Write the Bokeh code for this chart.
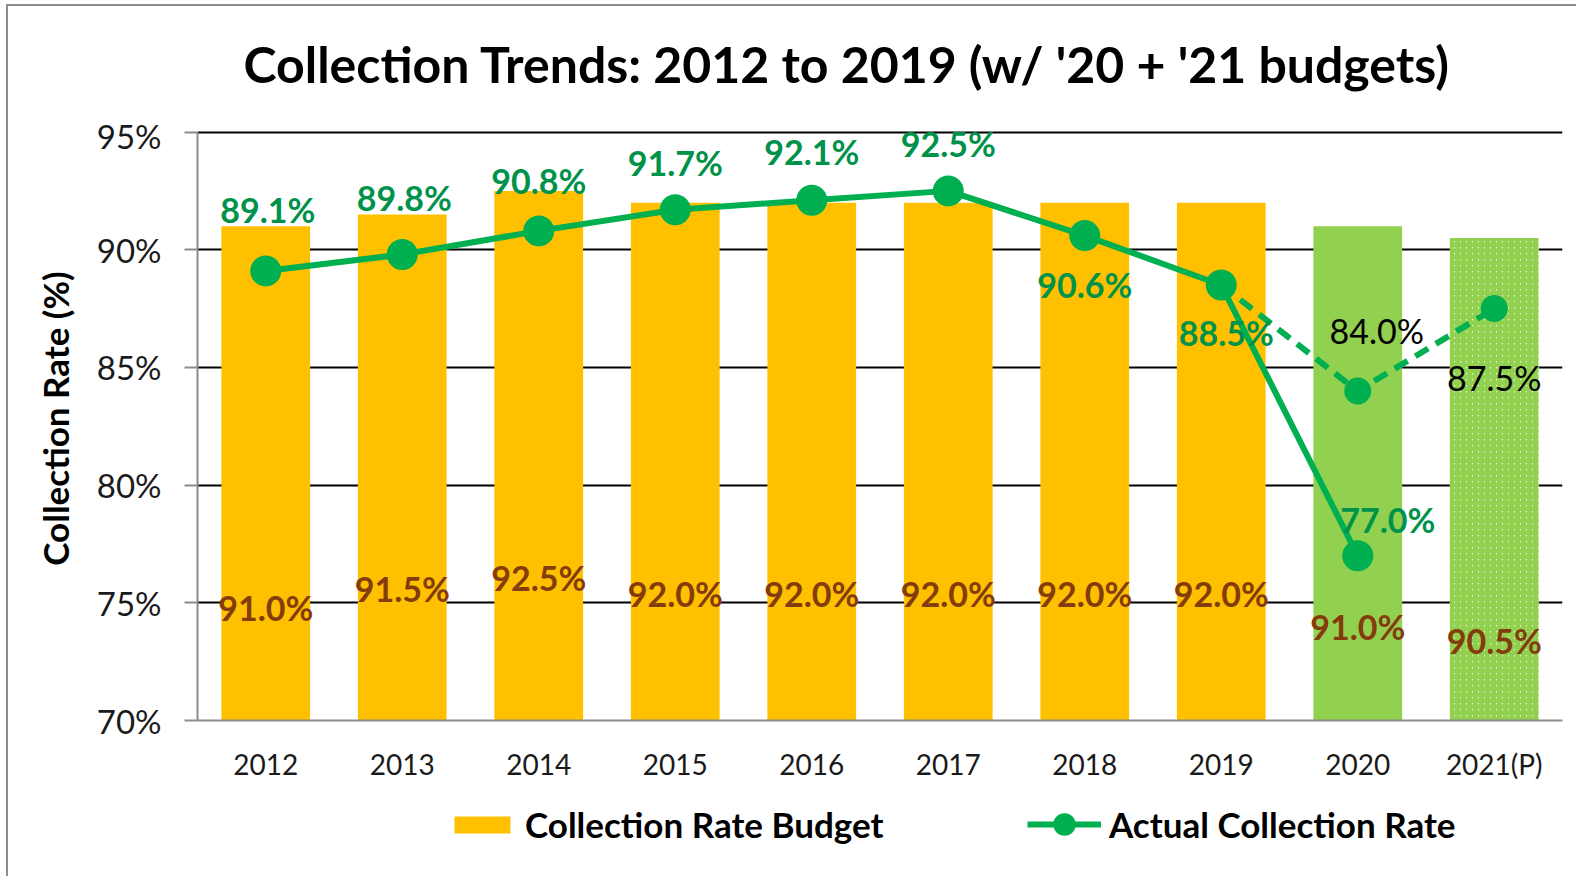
from bokeh.plotting import figure
from bokeh.layouts import column
from bokeh.models import ColumnDataSource, FactorRange, Range1d, Legend, LegendItem, FixedTicker, Label
from bokeh.core.properties import value
from bokeh.embed import file_html
from bokeh.resources import INLINE

# ---- data ----
title_text = "Collection Trends: 2012 to 2019 (w/ '20 + '21 budgets)"
years = ["2012", "2013", "2014", "2015", "2016", "2017", "2018", "2019", "2020", "2021(P)"]
budget = [91.0, 91.5, 92.5, 92.0, 92.0, 92.0, 92.0, 92.0, 91.0, 90.5]
actual_years = ["2012", "2013", "2014", "2015", "2016", "2017", "2018", "2019", "2020"]
actual = [89.1, 89.8, 90.8, 91.7, 92.1, 92.5, 90.6, 88.5, 77.0]
proj_years = ["2019", "2020", "2021(P)"]
projected = [88.5, 84.0, 87.5]
y_ticks = [70, 75, 80, 85, 90, 95]
y_tick_labels = ["70%", "75%", "80%", "85%", "90%", "95%"]
legend_labels = ["Collection Rate Budget", "Actual Collection Rate"]

# ---- label placement (pixels) ----
budget_label_shift = 16.5  # labels sit low inside bars
budget_label_dy = [-7, -14, -2, 2, 2, 2, 2, 2, 12, 14]
actual_label_dx = [2, 2, 0, 0, 0, 0, 0, 5, 30]
actual_label_dy = [-61, -57, -50, -47, -49, -47, 49, 47, -36]
proj_label_dx = [19, 0]
proj_label_dy = [-60, 69]
y_headroom = 0.66  # a little room above 95% so top labels are not clipped

FONT = "Lato"
ORANGE = "#FFC000"
LIGHTGREEN = "#92D050"
LINEGREEN = "#00B050"
LABELGREEN = "#00924A"
BROWN = "#843C0C"
GRAY = "#8C8C8C"


def strip(h):
    f = figure(width=1568, height=h, output_backend="svg", toolbar_location=None,
               x_range=Range1d(0, 1), y_range=Range1d(0, 1),
               x_axis_type=None, y_axis_type=None,
               min_border_left=0, min_border_right=0, min_border_top=0, min_border_bottom=0)
    f.outline_line_color = None
    f.grid.grid_line_color = None
    f.background_fill_color = "white"
    f.border_fill_color = "white"
    return f


# ---- title strip (frame aligns with the chart frame horizontally) ----
pt = strip(109)
pt.add_layout(Label(x=0.4758, y=0.4725, text=title_text, text_align="center",
                    text_baseline="middle", text_font=FONT, text_font_size="50px",
                    text_font_style="bold", text_color="black"))

# ---- main chart ----
p = figure(
    x_range=FactorRange(*years, range_padding=0),
    y_range=Range1d(70, y_ticks[-1] + y_headroom),
    width=1568, height=675,
    output_backend="svg", toolbar_location=None,
    min_border_left=189, min_border_right=14, min_border_top=1, min_border_bottom=70,
)
p.outline_line_color = None
p.background_fill_color = "white"
p.border_fill_color = "white"

# bars
n8 = 8
src_or = ColumnDataSource(dict(x=years[:n8], top=budget[:n8]))
src_gr = ColumnDataSource(dict(x=years[8:9], top=budget[8:9]))
src_ht = ColumnDataSource(dict(x=years[9:], top=budget[9:]))
p.vbar(x="x", top="top", bottom=70, width=0.65, source=src_or,
       fill_color=ORANGE, line_color=None)
p.vbar(x="x", top="top", bottom=70, width=0.65, source=src_gr,
       fill_color=LIGHTGREEN, line_color=None)
p.vbar(x="x", top="top", bottom=70, width=0.65, source=src_ht,
       fill_color="white", line_color=None,
       hatch_pattern="right_diagonal_line", hatch_color=LIGHTGREEN,
       hatch_scale=6, hatch_weight=3)

# lines
src_act = ColumnDataSource(dict(x=actual_years, y=actual))
src_proj = ColumnDataSource(dict(x=proj_years, y=projected))
src_proj_pts = ColumnDataSource(dict(x=proj_years[1:], y=projected[1:]))
p.line(x="x", y="y", source=src_proj, line_color=LINEGREEN, line_width=6,
       line_dash="15 9")
p.scatter(x="x", y="y", source=src_proj_pts, size=27, fill_color=LINEGREEN,
          line_color=None)
p.line(x="x", y="y", source=src_act, line_color=LINEGREEN, line_width=6)
p.scatter(x="x", y="y", source=src_act, size=31, fill_color=LINEGREEN,
          line_color=None)

# labels
src_blab = ColumnDataSource(dict(
    x=years, y=[b - budget_label_shift for b in budget],
    t=["%.1f%%" % b for b in budget], dy=budget_label_dy))
p.text(x="x", y="y", text="t", y_offset="dy", source=src_blab,
       text_font=value(FONT), text_font_size="34px", text_font_style="bold",
       text_color=BROWN, text_align="center", text_baseline="middle")

src_alab = ColumnDataSource(dict(
    x=actual_years, y=actual, t=["%.1f%%" % a for a in actual],
    dx=actual_label_dx, dy=actual_label_dy))
p.text(x="x", y="y", text="t", x_offset="dx", y_offset="dy", source=src_alab,
       text_font=value(FONT), text_font_size="34px", text_font_style="bold",
       text_color=LABELGREEN, text_align="center", text_baseline="middle")

src_plab = ColumnDataSource(dict(
    x=proj_years[1:], y=projected[1:], t=["%.1f%%" % v for v in projected[1:]],
    dx=proj_label_dx, dy=proj_label_dy))
p.text(x="x", y="y", text="t", x_offset="dx", y_offset="dy", source=src_plab,
       text_font=value(FONT), text_font_size="34px",
       text_color="black", text_align="center", text_baseline="middle")

# axes & grid
p.xgrid.grid_line_color = None
p.ygrid.grid_line_color = "black"
p.ygrid.grid_line_width = 2
p.yaxis.ticker = FixedTicker(ticks=y_ticks)
p.yaxis.bounds = (y_ticks[0], y_ticks[-1])
p.yaxis.major_label_overrides = dict(zip(y_ticks, y_tick_labels))
p.yaxis.axis_line_color = GRAY
p.yaxis.axis_line_width = 2
p.yaxis.major_tick_line_color = GRAY
p.yaxis.major_tick_line_width = 2
p.yaxis.major_tick_out = 13
p.yaxis.major_tick_in = 0
p.yaxis.minor_tick_line_color = None
p.yaxis.major_label_standoff = 23
p.yaxis.major_label_text_font = FONT
p.yaxis.major_label_text_font_size = "33px"
p.yaxis.major_label_text_color = "#1a1a1a"
p.yaxis.axis_label = "Collection Rate (%)"
p.yaxis.axis_label_text_font = FONT
p.yaxis.axis_label_text_font_size = "35px"
p.yaxis.axis_label_text_font_style = "bold"
p.yaxis.axis_label_text_color = "black"
p.yaxis.axis_label_standoff = 18

p.xaxis.axis_line_color = GRAY
p.xaxis.axis_line_width = 2
p.xaxis.major_tick_line_color = None
p.xaxis.minor_tick_line_color = None
p.xaxis.major_label_standoff = 20
p.xaxis.major_label_text_font = FONT
p.xaxis.major_label_text_font_size = "28px"
p.xaxis.major_label_text_color = "#1a1a1a"

# ---- legend strip ----
pl = strip(86)
offscreen = ColumnDataSource(dict(x=[-10, -9], y=[-10, -9]))
lg_bar = pl.vbar(x="x", top="y", bottom=-20, width=0.5, source=offscreen,
                 fill_color=ORANGE, line_color=None)
lg_line = pl.line(x="x", y="y", source=offscreen, line_color=LINEGREEN, line_width=6)
lg_pt = pl.scatter(x="x", y="y", source=offscreen, size=20, fill_color=LINEGREEN,
                   line_color=None)
common = dict(orientation="horizontal", label_standoff=8,
              label_text_font=FONT, label_text_font_size="35px",
              label_text_font_style="bold", label_text_color="black",
              border_line_color=None, background_fill_alpha=0, padding=0, margin=0)
leg1 = Legend(items=[LegendItem(label=legend_labels[0], renderers=[lg_bar])],
              location=(250, 31), glyph_width=70, glyph_height=21, **common)
leg2 = Legend(items=[LegendItem(label=legend_labels[1], renderers=[lg_line, lg_pt])],
              location=(830, 24), glyph_width=74, glyph_height=56, **common)
pl.add_layout(leg1, "center")
pl.add_layout(leg2, "center")

layout = column(pt, p, pl, spacing=0)
layout.styles = {"margin-left": "6px", "margin-top": "4px",
                 "border-left": "2px solid #8C8C8C", "border-top": "2px solid #8C8C8C"}

open("out.html", "w").write(file_html(layout, INLINE))
